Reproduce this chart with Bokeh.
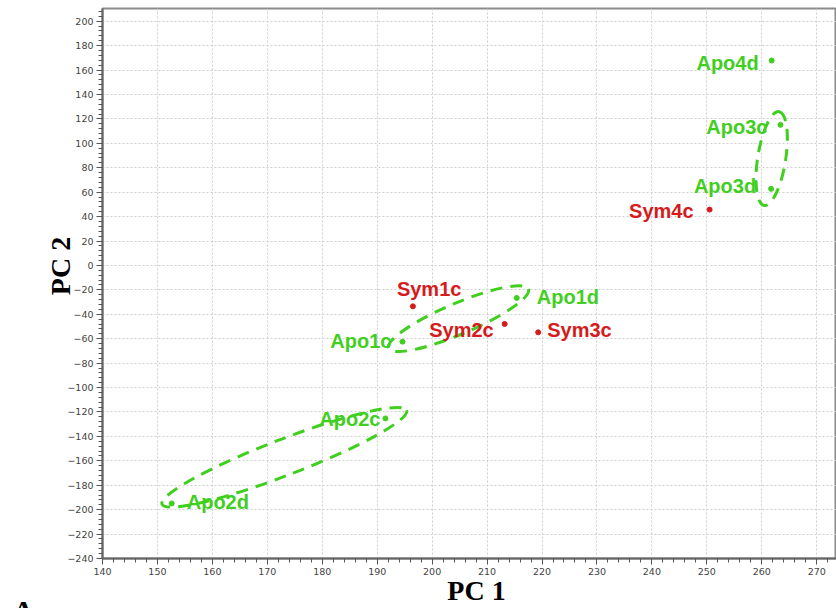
import math
from bokeh.plotting import figure
from bokeh.models import Range1d, ColumnDataSource, Title, SingleIntervalTicker
from bokeh.core.properties import value
from bokeh.embed import file_html
from bokeh.resources import INLINE

# ---- data ----
names = ["Apo4d", "Apo3c", "Apo3d", "Sym4c", "Sym1c", "Apo1d", "Sym2c", "Sym3c", "Apo1c", "Apo2c", "Apo2d"]
pc1 = [261.8, 263.4, 261.7, 250.5, 196.5, 215.4, 213.2, 219.3, 194.6, 191.5, 152.6]
pc2 = [167.8, 115.1, 62.7, 45.7, -33.5, -26.6, -47.9, -54.8, -62.4, -125.3, -194.9]
group = ["Apo", "Apo", "Apo", "Sym", "Sym", "Apo", "Sym", "Sym", "Apo", "Apo", "Apo"]

# group ellipses (centres in data units)
ell_pc1 = [261.8, 204.8, 173.1]
ell_pc2 = [87.5, -43.6, -157.1]

# ---- styles ----
GREEN = "#41cf1f"
RED = "#d51b1b"
colors = [GREEN if g == "Apo" else RED for g in group]
label_align = ["right", "right", "right", "right", "left", "left", "right", "left", "right", "right", "left"]
label_dx = [-13, -13, -15, -16, -16, 20, -11, 9, -11, -5, 15]
label_dy = [2, 2, -3, 1, -17, -1, 6, -2, -1, 1, -1]
ell_w = [95, 152, 262]
ell_h = [28, 31, 36]
ell_ang = [math.radians(81), math.radians(23), math.radians(21)]

src = ColumnDataSource(dict(x=pc1, y=pc2, name=names, color=colors,
                            align=label_align, dx=label_dx, dy=label_dy))

p = figure(width=836, height=608, output_backend="svg", toolbar_location=None,
           x_range=Range1d(140, 273.6), y_range=Range1d(-240, 210.4),
           min_border_left=102, min_border_right=0, min_border_top=8, min_border_bottom=50)
p.background_fill_color = "white"
p.border_fill_color = "white"
p.outline_line_color = "#8a8a8a"
p.outline_line_width = 2

p.xaxis.ticker = SingleIntervalTicker(interval=10, num_minor_ticks=5)
p.yaxis.ticker = SingleIntervalTicker(interval=20, num_minor_ticks=5)
for ax in (p.xaxis, p.yaxis):
    ax.axis_line_color = "#666666"
    ax.axis_line_width = 2
    ax.major_tick_line_color = "#555555"
    ax.minor_tick_line_color = "#555555"
    ax.major_tick_out = 6
    ax.major_tick_in = 0
    ax.minor_tick_out = 4
    ax.minor_tick_in = 0
    ax.major_label_text_font = "DejaVu Sans"
    ax.major_label_text_font_size = "9.5px"
    ax.major_label_text_color = "#444444"
    ax.major_label_standoff = 3
    ax.axis_label_text_font = "Liberation Serif"
    ax.axis_label_text_font_style = "bold"
    ax.axis_label_text_font_size = "28px"
    ax.axis_label_text_color = "black"
p.xaxis.axis_label = "\u00a0\u00a0PC 1"
p.xaxis.axis_label_standoff = -3
p.yaxis.axis_label = "\u00a0\u00a0\u00a0\u00a0\u00a0PC 2"
p.yaxis.axis_label_standoff = -12

p.xgrid.grid_line_color = "#cfcfcf"
p.ygrid.grid_line_color = "#cfcfcf"
p.xgrid.grid_line_dash = "2 2"
p.ygrid.grid_line_dash = "2 2"

p.ellipse(x=ell_pc1, y=ell_pc2, width=ell_w, height=ell_h, angle=ell_ang,
          width_units="screen", height_units="screen",
          fill_color=None, line_color=GREEN, line_width=3, line_dash="12 8")

p.scatter("x", "y", source=src, size=5, color="color")
p.text("x", "y", text="name", source=src, text_color="color", text_align="align",
       x_offset="dx", y_offset="dy", text_baseline="middle",
       text_font=value("Liberation Sans"), text_font_style="bold", text_font_size="20px")

p.add_layout(Title(text="A.", align="left", offset=-90, standoff=-36,
                   text_font="Liberation Serif", text_font_style="bold",
                   text_font_size="30px", text_color="black"), "below")

open("out.html", "w").write(file_html(p, INLINE))
